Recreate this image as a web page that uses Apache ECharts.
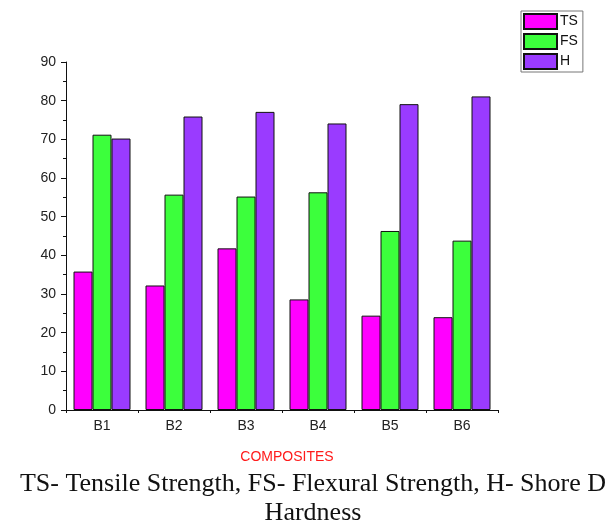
<!DOCTYPE html>
<html><head><meta charset="utf-8">
<script src="https://cdn.jsdelivr.net/npm/echarts@6/dist/echarts.min.js"></script>
<style>html,body{margin:0;padding:0;background:#fff}#c{width:614px;height:524px}</style>
</head><body><div id="c"></div>
<script>
var categories = ['B1','B2','B3','B4','B5','B6'];
var tsValues = [35.8, 32.2, 41.8, 28.6, 24.4, 24.0];
var fsValues = [71.2, 55.7, 55.2, 56.3, 46.3, 43.8];
var hValues  = [70.2, 75.9, 77.1, 74.1, 79.1, 81.1];
var seriesNames = ['TS','FS','H'];
var yTicks = {min: 0, max: 90, interval: 10};
var xTitle = 'COMPOSITES';
var caption = 'TS- Tensile Strength, FS- Flexural Strength, H- Shore D\nHardness';

var colors = ['#ff00ff', '#3cff3c', '#9a3bff'];
var chart = echarts.init(document.getElementById('c'), null, {renderer:'canvas'});
var lab = {fontFamily:'Liberation Sans, Arial, sans-serif', fontSize:14, color:'#222'};
function mk(name, data, color){
  return {name:name, type:'bar', data:data, barWidth:19, barGap:'0%',
    itemStyle:{color:color, borderColor:'#111', borderWidth:1}};
}
chart.setOption({
  animation:false,
  grid:{left:66, right:116, top:62, bottom:114},
  legend:{orient:'vertical', left:521, top:11, itemWidth:33, itemHeight:15, itemGap:3,
    padding:[2,5,2,2], borderColor:'#777', borderWidth:1,
    textStyle:{fontFamily:'Liberation Sans, Arial, sans-serif', fontSize:14, color:'#111', padding:[0,0,0,-2]},
    icon:'rect', data:seriesNames},
  title:[
    {text:xTitle, left:282, top:445, textAlign:'center',
      textStyle:{fontFamily:'Liberation Sans, Arial, sans-serif', fontSize:14, fontWeight:'normal', color:'#ff1a1a'}},
    {text:caption, left:308, top:465, textAlign:'center',
      textStyle:{fontFamily:'Liberation Serif, Times New Roman, serif', fontSize:26, fontWeight:'normal', color:'#111', lineHeight:29}}
  ],
  xAxis:[
    {type:'category', data:categories, position:'bottom',
      axisLine:{lineStyle:{color:'#111', width:1}},
      axisTick:{alignWithLabel:true, length:5, lineStyle:{color:'#111'}},
      axisLabel:Object.assign({margin:9}, lab)},
    {type:'category', data:categories, position:'bottom', gridIndex:0,
      axisLine:{show:false},
      axisTick:{show:true, length:3, lineStyle:{color:'#111'}},
      axisLabel:{show:false}}
  ],
  yAxis:{type:'value', min:yTicks.min, max:yTicks.max, interval:yTicks.interval,
    axisLine:{show:true, lineStyle:{color:'#111', width:1}},
    axisTick:{show:true, length:5, lineStyle:{color:'#111'}},
    minorTick:{show:true, splitNumber:2, length:3, lineStyle:{color:'#111'}},
    splitLine:{show:false},
    axisLabel:Object.assign({margin:10}, lab)},
  series:[mk(seriesNames[0], tsValues, colors[0]), mk(seriesNames[1], fsValues, colors[1]), mk(seriesNames[2], hValues, colors[2])]
});
</script></body></html>
